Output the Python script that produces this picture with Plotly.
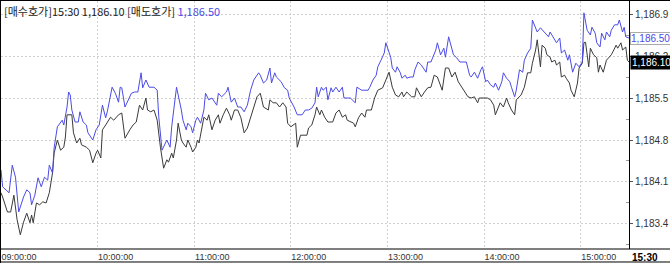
import pandas as pd
import plotly.graph_objects as go

# ---- data: minutes elapsed since 09:00 and quoted prices ----
ASK_MIN = [0,1,5,7,9,11,14,16,18,19,21,23,25,27,29,30,32,33,35,38,39,40,41,42,43,44,46,48,49,51,53,54,57,59,61,63,65,66,69,71,73,74,75,77,79,81,83,85,87,88,90,92,95,97,98,100,103,105,106,108,109,112,113,115,116,118,119,121,122,124,126,127,129,131,134,135,137,140,141,143,145,147,149,151,153,155,157,160,161,163,165,167,168,170,171,174,176,178,179,182,184,187,189,191,193,195,196,197,199,200,202,203,205,206,208,210,212,213,217,220,221,224,228,229,231,233,234,236,238,239,242,243,245,246,248,249,251,252,254,256,257,259,261,264,265,267,270,271,273,275,276,278,280,281,283,285,287,289,291,292,294,296,298,299,301,302,304,306,307,309,311,312,314,316,317,319,320,322,324,325,327,328,329,330,332,333,335,338,340,341,343,345,347,348,350,352,353,355,357,359,361,362,364,366,367,369,370,372,373,375,376,378,379,381,383,384,386,387,388,390]
ASK_PX = [1184.30,1184.02,1183.92,1184.38,1184.18,1183.60,1183.85,1183.97,1183.92,1183.72,1183.88,1184.17,1184.02,1184.18,1184.13,1184.38,1184.25,1184.67,1185.02,1185.13,1185.05,1185.18,1185.35,1185.60,1185.55,1185.30,1185.10,1185.10,1185.27,1185.10,1185.05,1184.92,1184.80,1184.97,1185.05,1185.38,1185.17,1185.27,1185.68,1185.58,1185.43,1185.68,1185.67,1185.35,1185.47,1185.58,1185.60,1185.60,1185.92,1185.67,1185.80,1185.68,1185.68,1185.63,1185.18,1184.63,1184.80,1184.68,1185.02,1185.42,1185.68,1185.30,1185.13,1184.97,1185.08,1185.02,1184.92,1185.13,1185.18,1185.08,1185.30,1185.58,1185.47,1185.50,1185.38,1185.58,1185.52,1185.60,1185.68,1185.43,1185.50,1185.35,1185.35,1185.27,1185.38,1185.63,1185.80,1185.92,1185.88,1185.75,1185.80,1186.00,1185.75,1185.92,1185.85,1185.77,1185.67,1185.63,1185.50,1185.35,1185.22,1185.22,1185.30,1185.30,1185.33,1185.42,1185.68,1185.52,1185.68,1185.63,1185.68,1185.47,1185.67,1185.60,1185.68,1185.60,1185.68,1185.50,1185.50,1185.42,1185.68,1185.63,1185.63,1185.68,1185.80,1185.88,1186.02,1186.13,1186.25,1186.42,1186.18,1186.00,1185.93,1186.02,1185.92,1185.83,1185.88,1185.83,1185.85,1185.85,1185.97,1186.10,1186.05,1185.93,1186.10,1186.10,1186.30,1186.42,1186.22,1186.33,1186.18,1186.52,1186.30,1186.22,1186.17,1186.10,1186.10,1186.10,1185.88,1185.85,1185.93,1185.83,1185.97,1186.02,1185.77,1185.80,1185.72,1185.68,1185.75,1185.63,1185.77,1185.92,1185.83,1185.77,1185.68,1185.52,1185.63,1185.97,1185.93,1186.13,1186.25,1186.30,1186.33,1186.80,1186.68,1186.60,1186.67,1186.58,1186.52,1186.60,1186.52,1186.42,1186.50,1186.25,1186.30,1186.13,1186.22,1185.93,1186.08,1186.02,1186.10,1186.92,1186.63,1186.55,1186.68,1186.58,1186.42,1186.35,1186.58,1186.47,1186.60,1186.52,1186.63,1186.72,1186.72,1186.80,1186.60,1186.68,1186.52,1186.50]

BID_MIN = [0,1,4,6,8,10,12,14,16,18,19,20,22,24,26,28,30,32,33,35,37,39,40,41,44,45,47,49,50,53,55,57,59,60,62,63,65,68,70,72,73,75,77,80,82,84,86,88,90,91,93,95,97,99,101,103,104,106,107,109,110,112,113,115,116,118,119,121,122,123,125,126,128,129,131,133,135,136,138,140,142,143,145,147,149,151,153,155,157,159,161,163,166,167,169,171,173,175,177,178,180,183,184,186,190,191,193,195,196,198,199,201,203,206,208,210,212,214,215,217,219,220,222,224,226,227,230,232,234,237,239,241,243,245,247,249,250,252,255,257,258,261,263,265,267,269,271,273,274,276,278,280,282,284,286,288,290,292,294,296,297,300,302,304,306,307,309,310,312,314,315,317,319,320,323,325,327,329,330,332,333,335,336,338,339,341,342,344,345,347,348,350,351,353,354,356,358,359,361,362,363,365,366,368,370,371,372,374,376,379,380,382,383,385,386,388,389,390]
BID_PX = [1183.92,1183.85,1183.60,1183.60,1183.88,1183.47,1183.22,1183.43,1183.58,1183.42,1183.55,1183.42,1183.75,1183.72,1183.77,1183.75,1183.92,1184.25,1184.58,1184.80,1184.63,1184.68,1184.85,1185.22,1185.22,1184.92,1184.75,1184.83,1184.72,1184.68,1184.63,1184.42,1184.58,1184.63,1184.50,1184.97,1185.05,1185.18,1185.13,1185.18,1185.22,1185.25,1184.83,1184.97,1185.05,1185.10,1185.38,1185.30,1185.50,1185.30,1185.27,1185.30,1185.13,1184.68,1184.33,1184.47,1184.43,1184.58,1184.50,1184.80,1185.08,1184.80,1184.75,1184.68,1184.80,1184.68,1184.60,1184.68,1184.80,1184.75,1185.00,1185.18,1185.13,1185.22,1184.97,1185.13,1185.22,1185.08,1185.22,1185.33,1185.22,1185.13,1185.30,1185.30,1185.17,1184.92,1185.00,1185.18,1185.35,1185.52,1185.58,1185.35,1185.30,1185.47,1185.42,1185.42,1185.35,1185.42,1185.35,1185.08,1185.02,1185.08,1184.68,1184.88,1184.88,1185.00,1185.05,1185.22,1185.35,1185.22,1185.30,1185.18,1185.10,1185.10,1185.25,1185.30,1185.18,1185.22,1185.13,1185.10,1185.08,1185.02,1185.17,1185.25,1185.18,1185.30,1185.30,1185.50,1185.63,1185.67,1185.80,1185.93,1185.68,1185.55,1185.52,1185.60,1185.52,1185.60,1185.52,1185.52,1185.67,1185.52,1185.60,1185.67,1185.68,1185.88,1185.85,1185.72,1185.63,1186.00,1186.00,1185.85,1185.93,1185.77,1185.68,1185.60,1185.52,1185.50,1185.52,1185.42,1185.50,1185.50,1185.50,1185.47,1185.38,1185.22,1185.35,1185.42,1185.35,1185.50,1185.42,1185.30,1185.22,1185.47,1185.55,1185.68,1185.92,1185.92,1186.08,1186.30,1186.47,1186.02,1186.38,1186.33,1186.22,1186.18,1186.10,1186.13,1186.05,1186.10,1185.85,1185.88,1185.83,1185.75,1185.63,1185.52,1185.75,1186.00,1186.08,1186.42,1186.43,1186.02,1186.33,1186.22,1186.17,1185.93,1186.05,1185.93,1186.13,1186.22,1186.27,1186.38,1186.33,1186.42,1186.30,1186.35,1186.13,1186.10]

HOUR_TICKS = ["09:00:00", "10:00:00", "11:00:00", "12:00:00", "13:00:00", "14:00:00", "15:00:00"]
PRICE_TICKS = [1183.4, 1184.1, 1184.8, 1185.5, 1186.2, 1186.9]
LAST_TIME = "15:30"
LAST_BID = 1186.10
LAST_ASK = 1186.50

BASE = pd.Timestamp("2000-01-01 09:00:00")
ask_x = BASE + pd.to_timedelta(ASK_MIN, unit="min")
bid_x = BASE + pd.to_timedelta(BID_MIN, unit="min")
tick_x = [pd.Timestamp("2000-01-01 " + t) for t in HOUR_TICKS]
end_x = pd.Timestamp("2000-01-01 " + LAST_TIME + ":00")

NUMFONT = "Liberation Sans, Arial, sans-serif"

fig = go.Figure()
fig.add_trace(go.Scatter(x=bid_x, y=BID_PX, mode="lines", line=dict(color="#3a3a3a", width=1), name="매수호가"))
fig.add_trace(go.Scatter(x=ask_x, y=ASK_PX, mode="lines", line=dict(color="#4b4be6", width=1), name="매도호가"))

fig.update_layout(
    width=670, height=263,
    margin=dict(l=1, r=39, t=1, b=14),
    paper_bgcolor="white", plot_bgcolor="white",
    showlegend=False,
    xaxis=dict(
        type="date", range=[BASE, end_x],
        tickvals=tick_x, ticktext=HOUR_TICKS,
        showgrid=True, gridcolor="#cfcfcf", griddash="2px,2px", gridwidth=1,
        ticks="", ticklabelshift=18, ticklabelstandoff=1, ticklabeloverflow="allow",
        tickfont=dict(family=NUMFONT, size=9, color="#333"),
        showline=False, zeroline=False,
    ),
    yaxis=dict(
        side="right", range=[1182.983, 1187.117],
        tickvals=PRICE_TICKS, ticktext=[f"{v:,.1f}" for v in PRICE_TICKS],
        showgrid=True, gridcolor="#cfcfcf", griddash="2px,2px", gridwidth=1,
        ticks="outside", ticklen=3, tickcolor="#555",
        minor=dict(tick0=1183.75, dtick=0.7, ticks="inside", ticklen=3, tickcolor="#999", showgrid=False),
        tickfont=dict(family=NUMFONT, size=10, color="#333"),
        showline=True, linecolor="black", linewidth=1, zeroline=False,
    ),
)

# frame lines
line = dict(color="black", width=1)
fig.add_shape(type="line", xref="paper", yref="paper", x0=-0.0016, x1=1.07, y0=0, y1=0, line=line)
fig.add_shape(type="line", xref="paper", yref="paper", x0=-0.0016, x1=1.07, y0=-0.0524, y1=-0.0524, line=line)
fig.add_shape(type="line", xref="paper", yref="paper", x0=-0.0008, x1=-0.0008, y0=-0.06, y1=1.01, line=line)
fig.add_shape(type="line", xref="paper", yref="paper", x0=-0.0016, x1=1.07, y0=1.002, y1=1.002, line=line)

# header
header = (f"[매수호가]{LAST_TIME} {LAST_BID:,.2f} [매도호가] "
          f"<span style='color:#4b4be6'>{LAST_ASK:,.2f}</span>")
fig.add_annotation(xref="paper", yref="paper", x=0, y=1, xanchor="left", yanchor="top",
                   xshift=1, yshift=0, text=header, showarrow=False,
                   font=dict(family="Noto Sans CJK KR, sans-serif", size=11, color="#222"))

# last-value labels on the price axis
fig.add_annotation(xref="paper", yref="y", x=1, y=LAST_ASK, xanchor="left", yanchor="middle",
                   xshift=1, text=f"{LAST_ASK:,.2f}", showarrow=False, bgcolor="white",
                   bordercolor="#aaaaaa", borderwidth=1, borderpad=0,
                   font=dict(family=NUMFONT, size=10, color="#4b4be6"))
fig.add_annotation(xref="paper", yref="y", x=1, y=LAST_BID, xanchor="left", yanchor="middle",
                   xshift=1, text=f"{LAST_BID:,.2f}", showarrow=False, bgcolor="black",
                   borderpad=1, font=dict(family=NUMFONT, size=10, color="white"))

# current time label on the time axis
fig.add_annotation(xref="paper", yref="paper", x=1, y=0, xanchor="left", yanchor="top",
                   xshift=1, yshift=-1, text=f"<b>{LAST_TIME}</b>", showarrow=False,
                   font=dict(family=NUMFONT, size=10, color="black"))

fig.write_html("out.html")
